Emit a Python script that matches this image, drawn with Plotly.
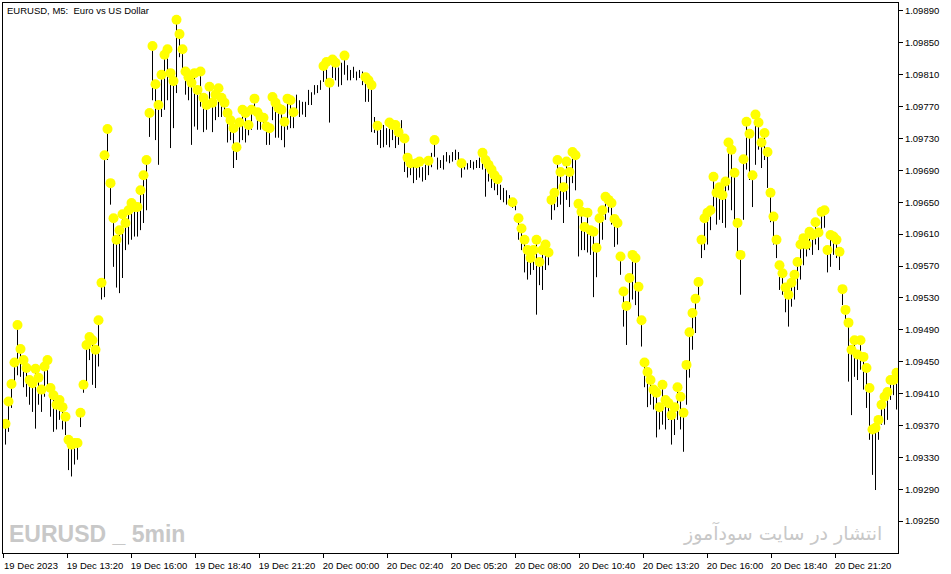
import pandas as pd
import plotly.graph_objects as go

# ---- data (EURUSD M5, high/low per bar) ----
highs = [
    1.09372, 1.09400, 1.09422, 1.09449, 1.09496, 1.09466, 1.09452, 1.09442, 1.09427, 1.09423,
    1.09441, 1.09430, 1.09415, 1.09444, 1.09452, 1.09417, 1.09408, 1.09396, 1.09402, 1.09393,
    1.09381, 1.09352, 1.09346, 1.09348, 1.09348, 1.09386, 1.09421, 1.09471, 1.09481, 1.09477,
    1.09465, 1.09502, 1.09549, 1.09709, 1.09742, 1.09674, 1.09630, 1.09603, 1.09615, 1.09635,
    1.09624, 1.09640, 1.09649, 1.09644, 1.09644, 1.09665, 1.09684, 1.09703, 1.09762, 1.09846,
    1.09798, 1.09772, 1.09810, 1.09835, 1.09842, 1.09812, 1.09802, 1.09879, 1.09861, 1.09842,
    1.09814, 1.09807, 1.09800, 1.09812, 1.09791, 1.09814, 1.09781, 1.09772, 1.09795, 1.09775,
    1.09785, 1.09793, 1.09781, 1.09775, 1.09762, 1.09753, 1.09743, 1.09719, 1.09750, 1.09766,
    1.09762, 1.09747, 1.09766, 1.09780, 1.09763, 1.09757, 1.09756, 1.09745, 1.09743, 1.09782,
    1.09775, 1.09768, 1.09766, 1.09751, 1.09780, 1.09778, 1.09763, 1.09785, 1.09778, 1.09776,
    1.09776, 1.09791, 1.09788, 1.09797, 1.09797, 1.09803, 1.09821, 1.09826, 1.09800, 1.09829,
    1.09825, 1.09819, 1.09825, 1.09834, 1.09822, 1.09816, 1.09820, 1.09814, 1.09816, 1.09814,
    1.09807, 1.09803, 1.09797, 1.09757, 1.09746, 1.09741, 1.09747, 1.09743, 1.09750, 1.09747,
    1.09747, 1.09738, 1.09753, 1.09730, 1.09706, 1.09699, 1.09703, 1.09699, 1.09701, 1.09694,
    1.09697, 1.09702, 1.09712, 1.09728, 1.09706, 1.09703, 1.09709, 1.09713, 1.09709, 1.09713,
    1.09716, 1.09713, 1.09699, 1.09703, 1.09699, 1.09703, 1.09701, 1.09703, 1.09706, 1.09712,
    1.09703, 1.09697, 1.09691, 1.09684, 1.09679, 1.09672, 1.09668, 1.09665, 1.09659, 1.09650,
    1.09649, 1.09630, 1.09617, 1.09603, 1.09590, 1.09580, 1.09590, 1.09603, 1.09575, 1.09590,
    1.09597, 1.09587, 1.09653, 1.09662, 1.09703, 1.09688, 1.09669, 1.09701, 1.09688, 1.09713,
    1.09709, 1.09648, 1.09638, 1.09619, 1.09637, 1.09615, 1.09613, 1.09593, 1.09630, 1.09640,
    1.09657, 1.09653, 1.09649, 1.09629, 1.09624, 1.09582, 1.09538, 1.09520, 1.09555, 1.09584,
    1.09580, 1.09544, 1.09502, 1.09449, 1.09437, 1.09427, 1.09415, 1.09411, 1.09393, 1.09421,
    1.09402, 1.09398, 1.09383, 1.09393, 1.09418, 1.09406, 1.09386, 1.09446, 1.09487, 1.09511,
    1.09529, 1.09550, 1.09603, 1.09630, 1.09637, 1.09640, 1.09682, 1.09662, 1.09669, 1.09659,
    1.09676, 1.09725, 1.09716, 1.09687, 1.09624, 1.09584, 1.09704, 1.09751, 1.09736, 1.09684,
    1.09760, 1.09750, 1.09725, 1.09737, 1.09713, 1.09662, 1.09632, 1.09603, 1.09571, 1.09561,
    1.09543, 1.09534, 1.09549, 1.09559, 1.09575, 1.09597, 1.09605, 1.09597, 1.09613, 1.09609,
    1.09625, 1.09612, 1.09638, 1.09640, 1.09590, 1.09609, 1.09607, 1.09603, 1.09588, 1.09541,
    1.09515, 1.09499, 1.09465, 1.09477, 1.09459, 1.09477, 1.09456, 1.09442, 1.09417, 1.09365,
    1.09367, 1.09377, 1.09396, 1.09406, 1.09412, 1.09427, 1.09427, 1.09436,
]
lows = [
    1.09346, 1.09362, 1.09392, 1.09423, 1.09433, 1.09431, 1.09418, 1.09406, 1.09396, 1.09387,
    1.09366, 1.09396, 1.09387, 1.09406, 1.09415, 1.09381, 1.09362, 1.09365, 1.09377, 1.09365,
    1.09358, 1.09314, 1.09306, 1.09321, 1.09327, 1.09368, 1.09411, 1.09421, 1.09452, 1.09421,
    1.09417, 1.09444, 1.09528, 1.09531, 1.09703, 1.09647, 1.09569, 1.09543, 1.09536, 1.09555,
    1.09590, 1.09597, 1.09603, 1.09607, 1.09607, 1.09615, 1.09624, 1.09640, 1.09732, 1.09778,
    1.09728, 1.09697, 1.09757, 1.09766, 1.09778, 1.09718, 1.09743, 1.09787, 1.09832, 1.09812,
    1.09785, 1.09778, 1.09722, 1.09745, 1.09741, 1.09770, 1.09738, 1.09741, 1.09770, 1.09738,
    1.09753, 1.09757, 1.09757, 1.09757, 1.09725, 1.09728, 1.09693, 1.09703, 1.09725, 1.09728,
    1.09725, 1.09734, 1.09741, 1.09766, 1.09741, 1.09741, 1.09741, 1.09722, 1.09722, 1.09753,
    1.09731, 1.09731, 1.09728, 1.09719, 1.09741, 1.09743, 1.09743, 1.09760, 1.09757, 1.09760,
    1.09757, 1.09772, 1.09772, 1.09785, 1.09787, 1.09791, 1.09801, 1.09803, 1.09750, 1.09806,
    1.09803, 1.09795, 1.09797, 1.09810, 1.09803, 1.09803, 1.09806, 1.09803, 1.09806, 1.09797,
    1.09776, 1.09776, 1.09738, 1.09737, 1.09722, 1.09718, 1.09719, 1.09722, 1.09719, 1.09728,
    1.09718, 1.09722, 1.09728, 1.09688, 1.09681, 1.09684, 1.09674, 1.09678, 1.09681, 1.09676,
    1.09678, 1.09684, 1.09694, 1.09707, 1.09691, 1.09693, 1.09691, 1.09701, 1.09699, 1.09701,
    1.09703, 1.09699, 1.09681, 1.09691, 1.09691, 1.09693, 1.09691, 1.09693, 1.09693, 1.09691,
    1.09657, 1.09676, 1.09668, 1.09665, 1.09659, 1.09653, 1.09650, 1.09647, 1.09647, 1.09643,
    1.09640, 1.09603, 1.09590, 1.09562, 1.09553, 1.09559, 1.09565, 1.09509, 1.09546, 1.09540,
    1.09565, 1.09571, 1.09628, 1.09640, 1.09644, 1.09647, 1.09624, 1.09653, 1.09644, 1.09674,
    1.09665, 1.09582, 1.09590, 1.09590, 1.09587, 1.09584, 1.09531, 1.09556, 1.09597, 1.09603,
    1.09628, 1.09637, 1.09622, 1.09594, 1.09597, 1.09559, 1.09494, 1.09471, 1.09524, 1.09528,
    1.09521, 1.09506, 1.09469, 1.09418, 1.09393, 1.09396, 1.09390, 1.09355, 1.09365, 1.09371,
    1.09365, 1.09377, 1.09346, 1.09358, 1.09377, 1.09365, 1.09337, 1.09396, 1.09430, 1.09465,
    1.09486, 1.09528, 1.09580, 1.09590, 1.09597, 1.09615, 1.09640, 1.09622, 1.09628, 1.09624,
    1.09618, 1.09665, 1.09640, 1.09622, 1.09580, 1.09534, 1.09628, 1.09691, 1.09678, 1.09644,
    1.09697, 1.09716, 1.09693, 1.09703, 1.09668, 1.09625, 1.09597, 1.09580, 1.09540, 1.09534,
    1.09512, 1.09494, 1.09519, 1.09528, 1.09540, 1.09553, 1.09571, 1.09582, 1.09590, 1.09584,
    1.09597, 1.09590, 1.09615, 1.09618, 1.09562, 1.09569, 1.09584, 1.09580, 1.09565, 1.09521,
    1.09496, 1.09425, 1.09383, 1.09431, 1.09427, 1.09440, 1.09415, 1.09392, 1.09352, 1.09308,
    1.09289, 1.09352, 1.09371, 1.09371, 1.09377, 1.09402, 1.09408, 1.09390,
]
# bars (0-based) that carry no yellow signal dot
no_dot_bars = [97, 98, 99, 100, 101, 102, 103, 104, 105, 111, 112, 114, 115, 116, 117,
               118, 119, 123, 125, 126, 127, 132, 136, 139, 140, 142, 144, 145, 146, 147,
               148, 149, 150, 151, 153, 154, 155, 156, 157, 158, 165, 166, 167, 168, 170]
time_labels = ["19 Dec 2023", "19 Dec 13:20", "19 Dec 16:00", "19 Dec 18:40", "19 Dec 21:20",
               "20 Dec 00:00", "20 Dec 02:40", "20 Dec 05:20", "20 Dec 08:00", "20 Dec 10:40",
               "20 Dec 13:20", "20 Dec 16:00", "20 Dec 18:40", "20 Dec 21:20"]
price_labels = ["1.09250", "1.09290", "1.09330", "1.09370", "1.09410", "1.09450", "1.09490",
                "1.09530", "1.09570", "1.09610", "1.09650", "1.09690", "1.09730", "1.09770",
                "1.09810", "1.09850", "1.09890"]

times = pd.date_range("2023-12-19 10:46:15", periods=len(highs), freq="450s")
tick_times = pd.date_range("2023-12-19 10:40:00", periods=len(time_labels), freq="160min")
x_start = pd.Timestamp("2023-12-19 10:40:00")
x_end = x_start + pd.Timedelta(minutes=2237.5)

fmt = "%Y-%m-%d %H:%M:%S"
bx, by = [], []
for t, h, l in zip(times, highs, lows):
    s = t.strftime(fmt)
    bx += [s, s, None]
    by += [l, h, None]

skip = set(no_dot_bars)
dx = [times[i].strftime(fmt) for i in range(len(highs)) if i not in skip]
dy = [highs[i] for i in range(len(highs)) if i not in skip]

fig = go.Figure()
fig.add_trace(go.Scatter(x=bx, y=by, mode="lines", line=dict(color="black", width=1),
                         hoverinfo="skip", connectgaps=False))
fig.add_trace(go.Scatter(x=dx, y=dy, mode="markers",
                         marker=dict(color="#FFFF00", size=10, line=dict(width=0))))

W, H = 951, 574
L, R, T, B = 3, 53, 3, 21
pw, ph = W - L - R, H - T - B

def px(xp):
    return (xp - L) / pw

def py(yp):
    return (H - B - yp) / ph

fig.update_layout(
    width=W, height=H,
    margin=dict(l=L, r=R, t=T, b=B, pad=0),
    paper_bgcolor="white", plot_bgcolor="white",
    showlegend=False,
    font=dict(family="Liberation Sans, Arial, sans-serif", size=9.5, color="black"),
)
fig.update_xaxes(
    type="date", range=[x_start.strftime(fmt), x_end.strftime(fmt)],
    tickvals=[t.strftime(fmt) for t in tick_times], ticktext=time_labels,
    ticks="outside", ticklen=4, tickwidth=1, tickcolor="black",
    showline=True, linecolor="black", linewidth=1, mirror=True,
    showgrid=False, zeroline=False, ticklabelshift=28,
    tickfont=dict(size=9.5, color="black"),
)
fig.update_yaxes(
    side="right", range=[1.09210, 1.09900],
    tickvals=[float(p) for p in price_labels], ticktext=price_labels,
    ticks="outside", ticklen=4, tickwidth=1, tickcolor="black",
    showline=True, linecolor="black", linewidth=1, mirror=True,
    showgrid=False, zeroline=False,
    tickfont=dict(size=9.5, color="black"),
)

fig.add_annotation(text="EURUSD, M5:  Euro vs US Dollar", xref="paper", yref="paper",
                   x=px(5), y=1, xanchor="left", yanchor="top", showarrow=False,
                   font=dict(size=9.5, color="black"))
fig.add_annotation(text="<b>EURUSD _ 5min</b>", xref="paper", yref="paper",
                   x=px(7), y=py(534), xanchor="left", yanchor="middle", showarrow=False,
                   font=dict(family="Liberation Sans, Arial, sans-serif",
                             size=23, color="#c8c8c8"))
fig.add_annotation(text="انتشار در سایت سودآموز", xref="paper", yref="paper",
                   x=px(884), y=py(533), xanchor="right", yanchor="middle", showarrow=False,
                   font=dict(family="DejaVu Sans, Noto Sans, sans-serif", size=19, color="#c8c8c8"))

fig.write_html("out.html", config={"displayModeBar": False},
               post_script="document.body.style.margin='0px';")
